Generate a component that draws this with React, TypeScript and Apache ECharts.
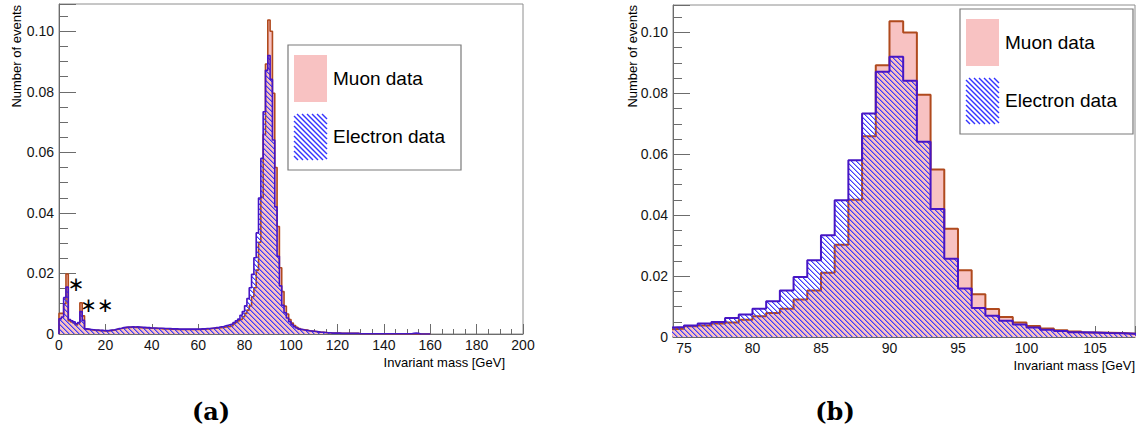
import { useEffect, useRef } from 'react';
import * as echarts from 'echarts';

// ---------- data: normalised event counts per 1 GeV bin, starting at 0 GeV ----------
const BIN_WIDTH = 1;

// bins 0-11 (J/psi and Upsilon region)
const muonLow = [0.0068, 0.0068, 0.0100, 0.0198, 0.0044, 0.0040, 0.0036, 0.0030, 0.0036, 0.0103, 0.0060, 0.0016];
const electronLow = [0.0050, 0.0056, 0.0120, 0.0155, 0.0048, 0.0044, 0.0040, 0.0034, 0.0038, 0.0074, 0.0045, 0.0017];

// bins 12-73 (continuum)
const muonMid = [
  0.0015, 0.0014, 0.0013, 0.0012, 0.0012, 0.0011, 0.0011, 0.0010, 0.0010, 0.0011,
  0.0012, 0.0013, 0.0015, 0.0017, 0.0018, 0.0020, 0.0021, 0.0022, 0.0022, 0.0023,
  0.0022, 0.0022, 0.0021, 0.0021, 0.0020, 0.0020, 0.0019, 0.0019, 0.0019, 0.0018,
  0.0018, 0.0018, 0.0017, 0.0017, 0.0017, 0.0016, 0.0016, 0.0016, 0.0015, 0.0015,
  0.0015, 0.0015, 0.0015, 0.0015, 0.0015, 0.0015, 0.0015, 0.0015, 0.0015, 0.0016,
  0.0016, 0.0017, 0.0017, 0.0018, 0.0019, 0.0019, 0.0020, 0.0021, 0.0022, 0.0023, 0.0024, 0.0025,
];
const electronMid = [
  0.0016, 0.0015, 0.0014, 0.0013, 0.0013, 0.0012, 0.0012, 0.0011, 0.0011, 0.0012,
  0.0013, 0.0014, 0.0016, 0.0018, 0.0019, 0.0021, 0.0022, 0.0023, 0.0023, 0.0024,
  0.0023, 0.0024, 0.0023, 0.0022, 0.0022, 0.0021, 0.0021, 0.0020, 0.0020, 0.0020,
  0.0019, 0.0019, 0.0019, 0.0018, 0.0018, 0.0018, 0.0017, 0.0017, 0.0017, 0.0016,
  0.0016, 0.0016, 0.0016, 0.0016, 0.0016, 0.0016, 0.0016, 0.0016, 0.0016, 0.0017,
  0.0017, 0.0018, 0.0018, 0.0019, 0.0020, 0.0021, 0.0022, 0.0024, 0.0025, 0.0027, 0.0029, 0.0031,
];

// bins 74-107 (Z peak)
const muonPeak = [
  0.0027, 0.0035, 0.0038, 0.0044, 0.0048, 0.0057, 0.0068, 0.0079, 0.0093, 0.0123,
  0.0153, 0.0211, 0.0303, 0.0451, 0.0659, 0.0892, 0.1037, 0.1000, 0.0795, 0.0550,
  0.0355, 0.0219, 0.0140, 0.0092, 0.0066, 0.0048, 0.0036, 0.0028, 0.0022, 0.0018,
  0.0015, 0.0014, 0.0013, 0.0011,
];
const electronPeak = [
  0.0033, 0.0038, 0.0044, 0.0049, 0.0062, 0.0074, 0.0093, 0.0117, 0.0153, 0.0197,
  0.0252, 0.0334, 0.0449, 0.0580, 0.0734, 0.0871, 0.0920, 0.0841, 0.0641, 0.0420,
  0.0257, 0.0159, 0.0095, 0.0070, 0.0053, 0.0041, 0.0031, 0.0024, 0.0020, 0.0016,
  0.0015, 0.0013, 0.0012, 0.0011,
];

// bins 108-159 (high-mass tail)
const muonTail = [
  0.0010, 0.0009, 0.0008, 0.0007, 0.0006, 0.0006, 0.0005, 0.0004, 0.0004, 0.0003,
  0.0003, 0.0003, 0.0003, 0.0002, 0.0002, 0.0002, 0.0002, 0.0002, 0.0002, 0.0002,
  0.0002, 0.0001, 0.0001, 0.0001, 0.0001, 0.0001, 0.0001, 0.0001, 0.0001, 0.0001,
  0.0001, 0.0001, 0, 0, 0, 0, 0, 0, 0, 0,
  0, 0, 0, 0, 0, 0, 0, 0, 0, 0, 0, 0,
];
const electronTail = [
  0.0010, 0.0009, 0.0008, 0.0007, 0.0006, 0.0006, 0.0005, 0.0004, 0.0004, 0.0003,
  0.0003, 0.0003, 0.0003, 0.0002, 0.0002, 0.0002, 0.0002, 0.0002, 0.0002, 0.0002,
  0.0002, 0.0001, 0.0001, 0.0001, 0.0001, 0.0001, 0.0001, 0.0001, 0.0001, 0.0001,
  0.0001, 0.0001, 0.0001, 0.0001, 0.0001, 0.0001, 0.0001, 0.0001, 0.0001, 0.0001,
  0.0001, 0.0001, 0.0001, 0.0001, 0.0002, 0.0003, 0.0002, 0, 0, 0, 0, 0,
];

const muonValues = [...muonLow, ...muonMid, ...muonPeak, ...muonTail];
const electronValues = [...electronLow, ...electronMid, ...electronPeak, ...electronTail];

const FULL_RANGE = [0, 200];
const ZOOM_RANGE = [74.2, 107.92];
const Y_MAX = 0.109;

const seriesNames = ['Muon data', 'Electron data'];
const panelLabels = ['(a)', '(b)'];
const xTitle = 'Invariant mass [GeV]';
const yTitle = 'Number of events';

// ---------- styles ----------
const MUON_LINE = '#b04a1e';
const MUON_FILL = 'rgb(248,194,194)';
const ELECTRON_LINE = '#4716c4';
const HATCH_BLUE = '#3434ff';
const AXIS_COLOR = '#6c6c6c';
const FRAME_COLOR = '#8e8e8e';
const SANS = '"Liberation Sans", Arial, Helvetica, sans-serif';

function histPoints(values: number[]) {
  const pts: number[][] = [[0, 0]];
  values.forEach((v, i) => pts.push([i * BIN_WIDTH, v]));
  pts.push([values.length * BIN_WIDTH, 0]);
  return pts;
}

// repeating tile with one "\" diagonal line, about 1.5 px thick
function makeHatch() {
  const n = 5;
  const c = document.createElement('canvas');
  c.width = n;
  c.height = n;
  const ctx = c.getContext('2d')!;
  for (let i = 0; i < n; i++) {
    ctx.fillStyle = 'rgba(52,52,255,0.95)';
    ctx.fillRect(i, i, 1, 1);
    ctx.fillStyle = 'rgba(52,52,255,0.45)';
    ctx.fillRect((i + 1) % n, i, 1, 1);
  }
  return { image: c.toDataURL(), repeat: 'repeat', imageWidth: n, imageHeight: n };
}

// diagonal hatch lines ("\" direction) inside a w x h legend swatch
function hatchLines(w: number, h: number, step: number) {
  const out: any[] = [];
  for (let c = -w; c < h; c += step) {
    const x1 = Math.max(0, -c);
    const x2 = Math.min(w, h - c);
    if (x2 <= x1) continue;
    out.push({
      type: 'line',
      shape: { x1, y1: x1 + c, x2, y2: x2 + c },
      style: { stroke: HATCH_BLUE, lineWidth: 1.4, fill: null },
    });
  }
  return out;
}

const isMultiple = (v: number, step: number) => Math.abs(v / step - Math.round(v / step)) < 1e-6;

export default function App() {
  const ref = useRef<HTMLDivElement>(null);

  useEffect(() => {
    document.body.style.margin = '0';
    if (!ref.current) return;
    const chart = echarts.init(ref.current, undefined, { renderer: 'svg' });
    const hatch = makeHatch();

    const grids = [
      { left: 59, top: 4, width: 464, height: 330 },
      { left: 673, top: 5, width: 462, height: 332 },
    ];

    const labelStyle = { color: '#141414', fontSize: 14, fontFamily: SANS };
    const yFormatter = (v: number) => (isMultiple(v, 0.02) ? (v === 0 ? '0' : v.toFixed(2)) : '');

    const majorX = (gridIndex: number, range: number[], step: number, tickLen: number) => ({
      gridIndex,
      type: 'value',
      min: range[0],
      max: range[1],
      minInterval: step,
      maxInterval: step,
      splitNumber: Math.round((range[1] - range[0]) / step),
      position: 'bottom',
      axisLine: { show: true, onZero: false, lineStyle: { color: AXIS_COLOR, width: 1 } },
      axisTick: { show: true, inside: true, length: tickLen, lineStyle: { color: AXIS_COLOR, width: 1 } },
      axisLabel: {
        ...labelStyle,
        margin: 4,
        formatter: (v: number) => (isMultiple(v, step) ? String(Math.round(v)) : ''),
      },
      splitLine: { show: false },
    });
    const minorX = (gridIndex: number, range: number[], step: number, tickLen: number) => ({
      gridIndex,
      type: 'value',
      min: range[0],
      max: range[1],
      minInterval: step,
      maxInterval: step,
      splitNumber: Math.round((range[1] - range[0]) / step),
      position: 'bottom',
      axisLine: { show: false, onZero: false },
      axisTick: { show: true, inside: true, length: tickLen, lineStyle: { color: AXIS_COLOR, width: 1 } },
      axisLabel: { show: false },
      splitLine: { show: false },
    });
    const majorY = (gridIndex: number) => ({
      gridIndex,
      type: 'value',
      min: 0,
      max: Y_MAX,
      interval: 0.02,
      position: 'left',
      axisLine: { show: true, onZero: false, lineStyle: { color: AXIS_COLOR, width: 1 } },
      axisTick: { show: true, inside: true, length: 17, lineStyle: { color: AXIS_COLOR, width: 1 } },
      axisLabel: { ...labelStyle, margin: 5, formatter: yFormatter },
      splitLine: { show: false },
    });
    const minorY = (gridIndex: number) => ({
      gridIndex,
      type: 'value',
      min: 0,
      max: Y_MAX,
      interval: 0.005,
      position: 'left',
      axisLine: { show: false, onZero: false },
      axisTick: { show: true, inside: true, length: 9, lineStyle: { color: AXIS_COLOR, width: 1 } },
      axisLabel: { show: false },
      splitLine: { show: false },
    });

    const histSeries = (axisIndex: number, width: number) => [
      {
        name: seriesNames[0],
        type: 'line',
        xAxisIndex: axisIndex,
        yAxisIndex: axisIndex,
        step: 'end',
        data: histPoints(muonValues),
        showSymbol: false,
        symbol: 'none',
        silent: true,
        clip: true,
        lineStyle: { color: MUON_LINE, width },
        areaStyle: { color: MUON_FILL, opacity: 1 },
        z: 2,
      },
      {
        name: seriesNames[1],
        type: 'line',
        xAxisIndex: axisIndex,
        yAxisIndex: axisIndex,
        step: 'end',
        data: histPoints(electronValues),
        showSymbol: false,
        symbol: 'none',
        silent: true,
        clip: true,
        lineStyle: { color: ELECTRON_LINE, width },
        areaStyle: { color: hatch, opacity: 1 },
        z: 3,
      },
    ];

    const legendBox = (x: number, y: number) => ({
      type: 'group',
      x,
      y,
      z: 20,
      children: [
        { type: 'rect', shape: { x: 0, y: 0, width: 173, height: 125 }, style: { fill: '#fff', stroke: '#7a7a7a', lineWidth: 1.2 } },
        { type: 'rect', shape: { x: 6, y: 10, width: 33, height: 47 }, style: { fill: MUON_FILL } },
        { type: 'group', x: 6, y: 69, children: hatchLines(33, 46, 5) },
        {
          type: 'text', x: 45, y: 33,
          style: { text: seriesNames[0], fontSize: 19, fontFamily: SANS, fill: '#000', align: 'left', verticalAlign: 'middle' },
        },
        {
          type: 'text', x: 45, y: 91,
          style: { text: seriesNames[1], fontSize: 19, fontFamily: SANS, fill: '#000', align: 'left', verticalAlign: 'middle' },
        },
      ],
    });

    const yTitleEl = (x: number, y: number) => ({
      type: 'text', x, y, rotation: Math.PI / 2, z: 20,
      style: { text: yTitle, fontSize: 13, fontFamily: SANS, fill: '#000', align: 'right', verticalAlign: 'middle' },
    });
    const xTitleEl = (x: number, y: number) => ({
      type: 'text', x, y, z: 20,
      style: { text: xTitle, fontSize: 13, fontFamily: SANS, fill: '#000', align: 'right', verticalAlign: 'middle' },
    });
    const panelLabel = (text: string, x: number) => ({
      type: 'text', x, y: 411, z: 20,
      style: { text, fontSize: 24, fontWeight: 'bold', fontFamily: '"DejaVu Serif", serif', fill: '#000', align: 'center', verticalAlign: 'middle' },
    });

    chart.setOption({
      animation: false,
      backgroundColor: '#fff',
      textStyle: { fontFamily: SANS },
      grid: grids.map((g) => ({ ...g, show: true, borderColor: FRAME_COLOR, borderWidth: 1, backgroundColor: 'transparent' })),
      xAxis: [
        majorX(0, FULL_RANGE, 20, 10),
        minorX(0, FULL_RANGE, 5, 5),
        majorX(1, ZOOM_RANGE, 5, 11),
        minorX(1, ZOOM_RANGE, 1, 6),
      ],
      yAxis: [majorY(0), minorY(0), majorY(1), minorY(1)],
      series: [...histSeries(0, 1.6), ...histSeries(2, 2)],
      graphic: [
        yTitleEl(16, 5),
        yTitleEl(632, 5),
        xTitleEl(505, 362),
        xTitleEl(1135, 365),
        legendBox(288, 45),
        legendBox(960, 9),
        {
          type: 'text', x: 76, y: 284, z: 20,
          style: { text: '∗', fontSize: 20, fontFamily: '"DejaVu Sans", sans-serif', fill: '#000', align: 'center', verticalAlign: 'middle' },
        },
        {
          type: 'text', x: 97, y: 305, z: 20,
          style: { text: '∗∗', fontSize: 20, fontFamily: '"DejaVu Sans", sans-serif', fill: '#000', align: 'center', verticalAlign: 'middle' },
        },
        panelLabel(panelLabels[0], 211),
        panelLabel(panelLabels[1], 835),
      ],
    });

    return () => chart.dispose();
  }, []);

  return <div ref={ref} style={{ width: 1145, height: 432 }} />;
}
